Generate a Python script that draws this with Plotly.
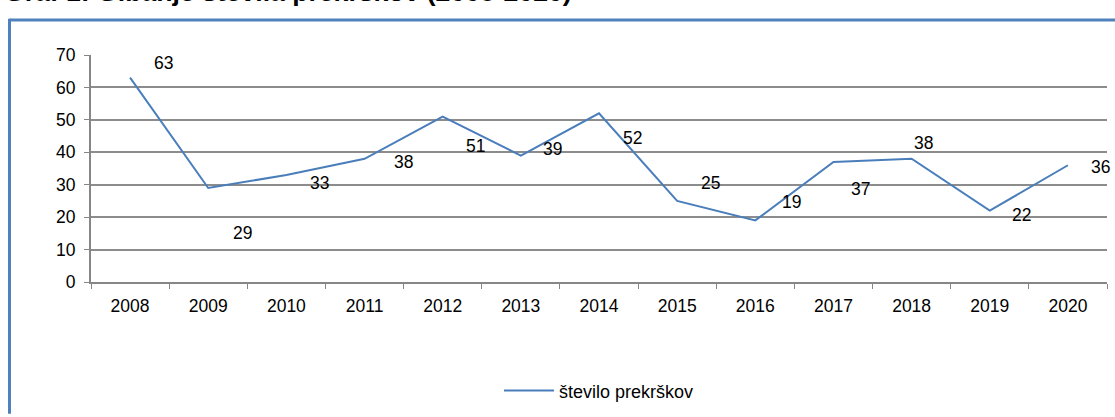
import plotly.graph_objects as go

years = ["2008", "2009", "2010", "2011", "2012", "2013", "2014",
         "2015", "2016", "2017", "2018", "2019", "2020"]
values = [63, 29, 33, 38, 51, 39, 52, 25, 19, 37, 38, 22, 36]
series_name = "število prekrškov"
title_text = "Graf 1: Gibanje števila prekrškov (2008-2020)"

# label offsets in pixels (style only)
label_dx = [33, 34, 33, 39, 33, 32, 33, 33, 36, 27, 12, 32, 33]
label_dy = [15, -45, -8, -3, -29, 7, -25, 18, 18, -27, 16, -4, -2]

FONT = "Liberation Sans, Arial, sans-serif"
LINE = "#4A7EBB"
GRID = "#8C8C8C"
FS = 17.5

W, H = 1115, 417
L, R, T, B = 91, 8, 55, 131
pw = W - L - R
ph = H - T - B

def px(x):
    return (x - L) / pw

def py(y):
    return (H - B - y) / ph

fig = go.Figure()
fig.add_trace(go.Scatter(
    x=years, y=values, mode="lines", name=series_name,
    line=dict(color=LINE, width=2), showlegend=True,
))

for i, (v, dx, dy) in enumerate(zip(values, label_dx, label_dy)):
    fig.add_annotation(x=i, y=v, text=str(v), showarrow=False,
                       xshift=dx, yshift=dy,
                       font=dict(family=FONT, size=FS, color="#000000"))

fig.add_annotation(xref="paper", yref="paper", x=px(2), y=py(8),
                   xanchor="left", yanchor="bottom", text="<b>" + title_text + "</b>",
                   showarrow=False, font=dict(family=FONT, size=26.6, color="#000000"))

border = "#4F81BD"
fig.add_shape(type="line", xref="paper", yref="paper",
              x0=px(9.5), x1=px(1120), y0=py(19.5), y1=py(19.5),
              line=dict(color=border, width=3))
fig.add_shape(type="line", xref="paper", yref="paper",
              x0=px(9.5), x1=px(9.5), y0=py(18), y1=py(420),
              line=dict(color=border, width=3))

fig.update_layout(
    width=W, height=H,
    margin=dict(l=L, r=R, t=T, b=B),
    paper_bgcolor="white", plot_bgcolor="white",
    font=dict(family=FONT, size=FS, color="#000000"),
    showlegend=True,
    legend=dict(orientation="h", x=0.5, xanchor="center", y=py(378), yanchor="top",
                font=dict(family=FONT, size=18), itemwidth=50,
                bgcolor="rgba(0,0,0,0)"),
    xaxis=dict(type="category", range=[-0.5, len(years) - 0.5],
               tickson="boundaries", ticks="outside", ticklen=5,
               tickcolor="#868686", showline=True, linecolor="#868686", linewidth=2,
               showgrid=False, tickfont=dict(family=FONT, size=FS), fixedrange=True,
               tickangle=0, automargin=False, ticklabelstandoff=7),
    yaxis=dict(range=[0, 70], dtick=10, ticks="outside", ticklen=5, tickcolor="#868686",
               showline=True, linecolor="#868686", linewidth=2,
               showgrid=True, gridcolor=GRID, gridwidth=2, zeroline=False,
               tickfont=dict(family=FONT, size=FS), fixedrange=True, automargin=False,
               ticklabelstandoff=5),
)

fig.write_html("out.html", config={"displayModeBar": False},
               post_script="document.body.style.margin='0px';document.body.style.overflow='hidden';")
